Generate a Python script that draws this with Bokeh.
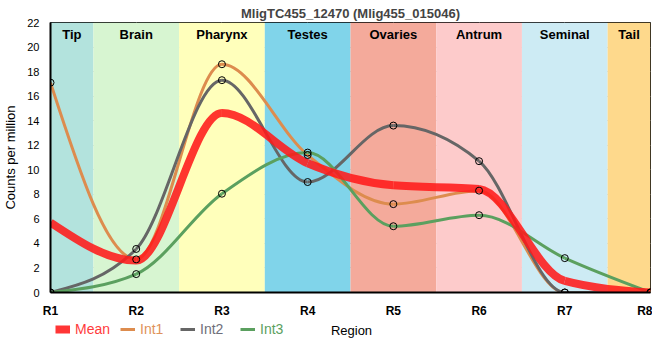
import numpy as np
from bokeh.plotting import figure
from bokeh.layouts import column
from bokeh.models import (Range1d, Legend, LegendItem, ColumnDataSource, FixedTicker,
                          BoxAnnotation, Label)
from bokeh.core.properties import value
from bokeh.embed import file_html
from bokeh.resources import INLINE

# ---- data ----
positions = [1, 2, 3, 4, 5, 6, 7, 8]
tick_labels = ["R1", "R2", "R3", "R4", "R5", "R6", "R7", "R8"]
mean_vals = [5.7, 2.6, 14.63, 10.53, 8.73, 8.43, 0.94, 0.0]
int1_vals = [17.1, 2.7, 18.6, 11.2, 7.2, 8.3, 0.0, 0.0]
int2_vals = [0.0, 3.55, 17.3, 9.0, 13.6, 10.7, 0.0, 0.0]
int3_vals = [0.0, 1.5, 8.05, 11.4, 5.4, 6.3, 2.8, 0.0]

band_names = ["Tip", "Brain", "Pharynx", "Testes", "Ovaries", "Antrum", "Seminal", "Tail"]
band_start = [1.0, 1.5, 2.5, 3.5, 4.5, 5.5, 6.5, 7.5]
band_end = [1.5, 2.5, 3.5, 4.5, 5.5, 6.5, 7.5, 8.0]
band_colors = ["#b3e3dd", "#d7f5d1", "#ffffbb", "#80d4ea", "#f4aa9b",
               "#fdcbcb", "#cdebf4", "#fed98c"]

series_names = ["Mean", "Int1", "Int2", "Int3"]
series_colors = ["#ff1a1a", "#dd8c4e", "#666666", "#5ba05f"]
label_colors = ["#ff3b3b", "#e0925a", "#6e6e7a", "#5ba05f"]

FONT = "Liberation Sans"


def monotone_beziers(xs, ys):
    """Control points of a monotone cubic (d3 curveMonotoneX) through the points."""
    x = np.asarray(xs, float)
    y = np.asarray(ys, float)
    n = len(x)
    h = np.diff(x)
    s = np.diff(y) / h
    t = np.zeros(n)
    for i in range(1, n - 1):
        h0, h1, s0, s1 = h[i - 1], h[i], s[i - 1], s[i]
        p = (s0 * h1 + s1 * h0) / (h0 + h1)
        t[i] = (np.sign(s0) + np.sign(s1)) * min(abs(s0), abs(s1), 0.5 * abs(p))
    t[0] = (3 * s[0] - t[1]) / 2
    t[-1] = (3 * s[-1] - t[-2]) / 2
    x0, x1 = x[:-1], x[1:]
    y0, y1 = y[:-1], y[1:]
    return dict(x0=x0, y0=y0, x1=x1, y1=y1,
                cx0=x0 + h / 3, cy0=y0 + t[:-1] * h / 3,
                cx1=x1 - h / 3, cy1=y1 - t[1:] * h / 3)


p = figure(frame_width=600, frame_height=270, output_backend="svg", toolbar_location=None,
           x_range=Range1d(1, 8), y_range=Range1d(0, 22),
           min_border_left=42, min_border_right=2, min_border_top=22, min_border_bottom=22,
           title="MligTC455_12470 (Mlig455_015046)")
p.title.align = "center"
p.title.offset = -20
p.title.text_font = FONT
p.title.text_font_size = "13px"
p.title.text_font_style = "bold"
p.title.standoff = 0
p.title.vertical_align = "top"

# bands
for s0, s1, c in zip(band_start, band_end, band_colors):
    p.add_layout(BoxAnnotation(left=s0, right=s1, fill_color=c, fill_alpha=1.0,
                               line_alpha=0, level="underlay"))

centers = [(a + b) / 2 for a, b in zip(band_start, band_end)]
p.text(x=centers, y=[22] * len(centers), text=band_names, text_align="center",
       text_baseline="top", y_offset=4, text_font=value(FONT), text_font_size="13px",
       text_font_style="bold", text_color="black")

# grid / axes
p.xgrid.grid_line_color = "#c8c8c8"
p.ygrid.grid_line_color = "#c8c8c8"
p.xgrid.level = "underlay"
p.ygrid.level = "underlay"
p.xaxis.ticker = FixedTicker(ticks=positions)
p.xaxis.major_label_overrides = {pp: lab for pp, lab in zip(positions, tick_labels)}
p.yaxis.ticker = FixedTicker(ticks=list(range(0, 23, 2)))
for ax in (p.xaxis[0], p.yaxis[0]):
    ax.axis_line_width = 2
    ax.axis_line_color = "black"
    ax.major_tick_line_color = None
    ax.minor_tick_line_color = None
    ax.major_label_text_font = FONT
    ax.major_label_text_color = "black"
    ax.axis_label_text_font = FONT
    ax.axis_label_text_font_style = "normal"
    ax.axis_label_text_color = "black"
p.xaxis.major_label_text_font_size = "12px"
p.xaxis.major_label_text_font_style = "bold"
p.yaxis.major_label_text_font_size = "11px"
p.yaxis.axis_label = "Counts per million"
p.yaxis.axis_label_text_font_size = "13px"
p.yaxis.axis_label_standoff = 6
p.outline_line_color = "black"
p.outline_line_width = 1

vals_by_name = {"Mean": mean_vals, "Int1": int1_vals, "Int2": int2_vals, "Int3": int3_vals}
for name, col in zip(series_names[1:], series_colors[1:]):
    src = ColumnDataSource(monotone_beziers(positions, vals_by_name[name]))
    p.bezier(x0="x0", y0="y0", x1="x1", y1="y1", cx0="cx0", cy0="cy0",
             cx1="cx1", cy1="cy1", source=src, line_color=col, line_width=3)

src_m = ColumnDataSource(monotone_beziers(positions, mean_vals))
p.bezier(x0="x0", y0="y0", x1="x1", y1="y1", cx0="cx0", cy0="cy0",
         cx1="cx1", cy1="cy1", source=src_m, line_color=series_colors[0], line_width=8,
         line_alpha=0.88)

for name in series_names[1:]:
    p.scatter(positions, vals_by_name[name], size=7, fill_color=None,
              line_color="black", line_width=1)

# ---- legend strip with the x-axis title (series drawn off-view, only legends show) ----
p2 = figure(width=p.frame_width + 44, height=22, output_backend="svg",
            toolbar_location=None, x_range=Range1d(100, 101), y_range=Range1d(100, 101),
            min_border=0)
p2.axis.visible = False
p2.grid.visible = False
p2.outline_line_color = None
leg_x = [5, 70, 130, 190]
for name, col, lcol, lx in zip(series_names, series_colors, label_colors, leg_x):
    w = 8 if name == "Mean" else 3
    r = p2.line(x=positions, y=vals_by_name[name], line_color=col, line_width=w,
                line_alpha=0.88 if name == "Mean" else 1.0)
    lg = Legend(items=[LegendItem(label=name, renderers=[r])],
                location=(lx, 5), orientation="horizontal",
                background_fill_alpha=0, border_line_alpha=0, padding=0, margin=0,
                glyph_width=15, glyph_height=16, label_standoff=5,
                label_text_font=FONT, label_text_font_size="14px",
                label_text_color=lcol, label_height=16)
    p2.add_layout(lg, "center")
p2.add_layout(Label(x=301, y=12, x_units="screen", y_units="screen", text="Region",
                    text_align="center", text_baseline="middle", text_font=FONT,
                    text_font_size="13px", text_color="black"))

open("out.html", "w").write(file_html(column(p, p2, spacing=0), INLINE))
